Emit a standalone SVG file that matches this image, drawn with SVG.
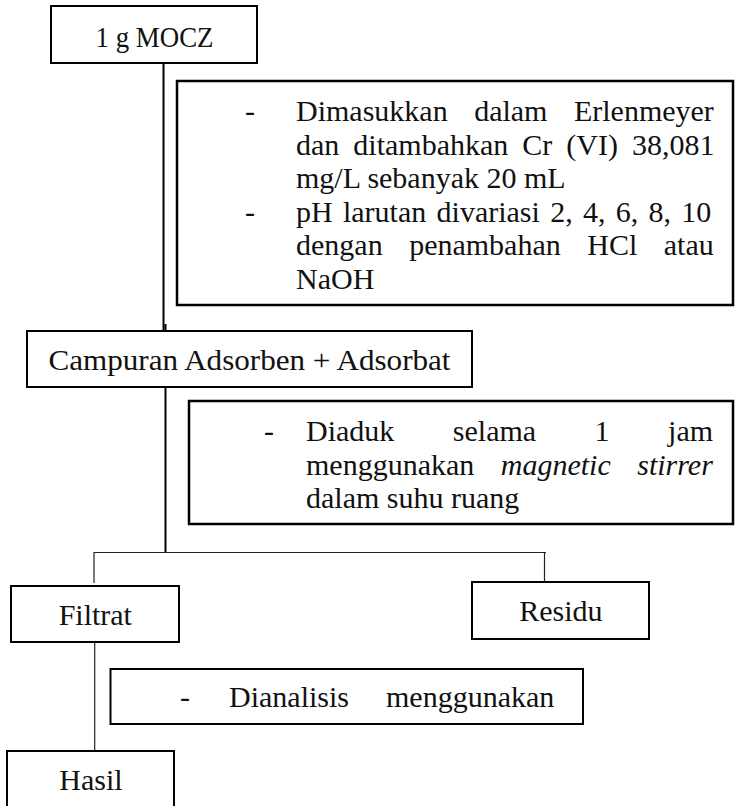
<svg xmlns="http://www.w3.org/2000/svg" width="735" height="806" viewBox="0 0 735 806">
<style>
  .box { fill: #fff; stroke: #000; stroke-width: 2; }
  .note { fill: #fff; stroke: #000; stroke-width: 2.5; }
  .t { font-family: "Liberation Serif", "Times New Roman", serif; font-size: 30px; fill: #111; }
  .c { text-anchor: middle; }
  .i { font-style: italic; }
  .thick { stroke: #000; stroke-width: 2; fill: none; }
  .thin { stroke: #222; stroke-width: 1.2; fill: none; }
</style>
<rect width="735" height="806" fill="#fff"/>
<g id="connectors">
  <path class="thick" d="M163.5,63 V331"/>
  <path class="thick" d="M165.5,324 V331"/>
  <path class="thick" d="M165.5,387 V553"/>
  <path class="thin" d="M94,552.5 H546"/>
  <path class="thin" d="M94,552 V583"/>
  <path class="thin" d="M544.5,552 V582"/>
  <path class="thin" d="M94.7,642 V751"/>
</g>
<g id="node-mocz">
  <rect class="box" x="51" y="6" width="206" height="57"/>
  <text class="t c" x="154.5" y="47" textLength="118" lengthAdjust="spacingAndGlyphs">1 g MOCZ</text>
</g>
<g id="note-1">
  <rect class="note" x="177" y="81" width="556" height="224"/>
  <text class="t" x="245" y="121">-</text>
  <text class="t" x="296" y="121" word-spacing="19">Dimasukkan dalam Erlenmeyer</text>
  <text class="t" x="296" y="155" word-spacing="6.5">dan ditambahkan Cr (VI) 38,081</text>
  <text class="t" x="296" y="188">mg/L sebanyak 20 mL</text>
  <text class="t" x="245" y="222">-</text>
  <text class="t" x="296" y="222" word-spacing="2.8">pH larutan divariasi 2, 4, 6, 8, 10</text>
  <text class="t" x="296" y="255" word-spacing="19">dengan penambahan HCl atau</text>
  <text class="t" x="296" y="289">NaOH</text>
</g>
<g id="node-campuran">
  <rect class="box" x="27" y="331" width="445" height="56"/>
  <text class="t c" x="249.5" y="370" textLength="402" lengthAdjust="spacingAndGlyphs">Campuran Adsorben + Adsorbat</text>
</g>
<g id="note-2">
  <rect class="note" x="189" y="401" width="544" height="123"/>
  <text class="t" x="264" y="441">-</text>
  <text class="t" x="306" y="441" word-spacing="51">Diaduk selama 1 jam</text>
  <text class="t" x="306" y="475" word-spacing="19">menggunakan <tspan class="i">magnetic</tspan> <tspan class="i">stirrer</tspan></text>
  <text class="t" x="306" y="508">dalam suhu ruang</text>
</g>
<g id="node-filtrat">
  <rect class="box" x="11" y="586" width="168" height="56"/>
  <text class="t c" x="95.3" y="625">Filtrat</text>
</g>
<g id="node-residu">
  <rect class="box" x="472" y="582" width="177" height="57"/>
  <text class="t c" x="560.8" y="621">Residu</text>
</g>
<g id="note-3">
  <rect class="box" x="110.5" y="669" width="472.5" height="55"/>
  <text class="t" x="180" y="707">-</text>
  <text class="t" y="707"><tspan x="229">Dianalisis</tspan><tspan x="386">menggunakan</tspan></text>
</g>
<g id="node-hasil">
  <rect class="box" x="7" y="751" width="167" height="70"/>
  <text class="t c" x="91" y="790">Hasil</text>
</g>
</svg>
